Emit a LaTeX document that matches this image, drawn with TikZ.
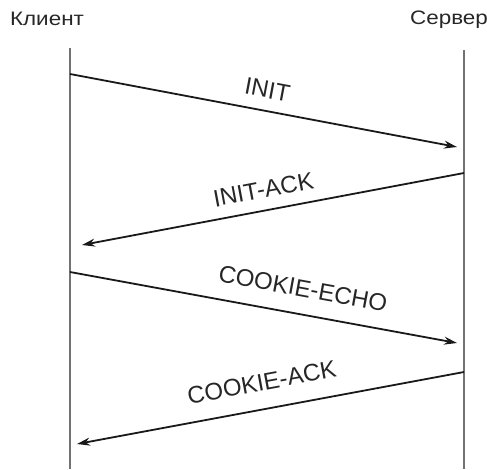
\documentclass[tikz,border=0pt]{standalone}
\usepackage{fontspec}
\setmainfont{Liberation Sans}
\usetikzlibrary{arrows.meta}
\begin{document}
\begin{tikzpicture}[x=1pt,y=-1pt,
  lifeline/.style={draw=black!55, line width=2.4pt},
  msg/.style={draw=black!90, line width=1.8pt, -{Stealth[length=13pt,width=8pt]}},
  msglabel/.style={sloped, above, inner sep=2pt, text=black!85, font=\fontsize{24}{24}\selectfont},
  party/.style={text=black!85, font=\fontsize{19.5}{19.5}\selectfont, inner sep=0pt}]
\useasboundingbox (0,0) rectangle (487,469);
% participants
\node[party] (client) at (47,19) {\scalebox{1.15}[1]{Клиент}};
\node[party] (server) at (449,20) {\scalebox{1.15}[1]{Сервер}};
% lifelines
\coordinate (c0) at (70,48);
\coordinate (c1) at (70,469);
\coordinate (s0) at (464,50);
\coordinate (s1) at (464,469);
\draw[lifeline] (c0) -- (c1);
\draw[lifeline] (s0) -- (s1);
% message end points
\coordinate (m1a) at (70,74);   \coordinate (m1b) at (457,147);
\coordinate (m2a) at (464,173); \coordinate (m2b) at (82,245);
\coordinate (m3a) at (70,272);  \coordinate (m3b) at (457,343);
\coordinate (m4a) at (464,372); \coordinate (m4b) at (77,444);
% messages
\draw[msg] (m1a) -- node[msglabel, pos=0.5, yshift=10pt] (l1) {INIT} (m1b);
\draw[msg] (m2a) -- node[msglabel, pos=0.515, yshift=9.5pt] (l2) {INIT-ACK} (m2b);
\draw[msg] (m3a) -- node[msglabel, pos=0.59, yshift=14.5pt] (l3) {COOKIE-ECHO} (m3b);
\draw[msg] (m4a) -- node[msglabel, pos=0.51, yshift=15.5pt] (l4) {COOKIE-ACK} (m4b);
\end{tikzpicture}
\end{document}
